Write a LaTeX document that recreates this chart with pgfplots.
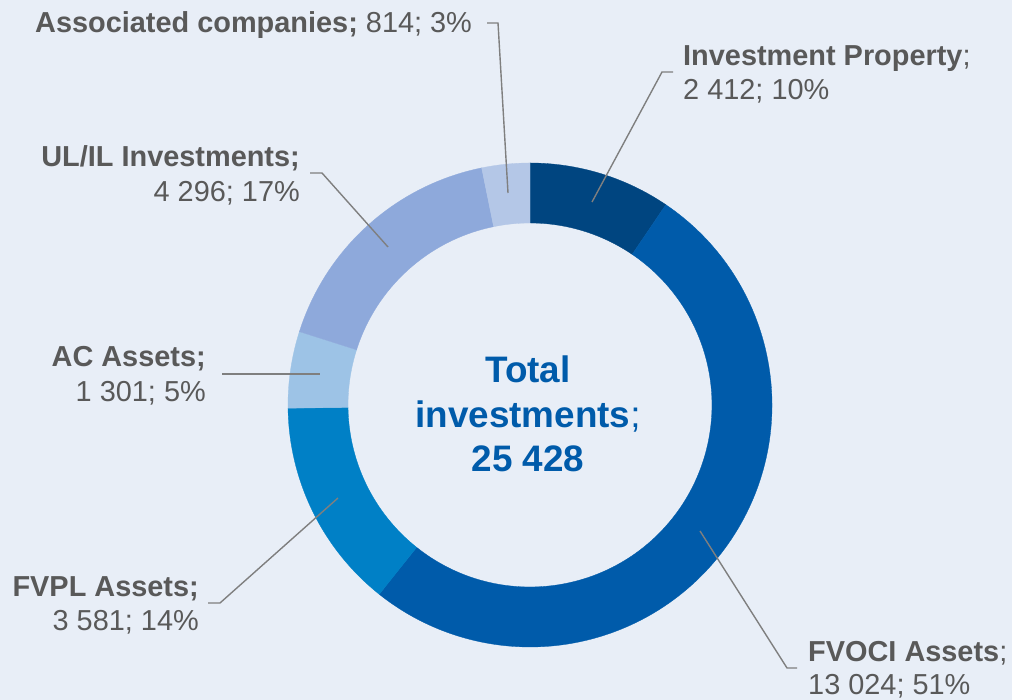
\documentclass[border=0pt]{standalone}
\usepackage{pgfplots}
\usepackage{pgfplotstable}
\pgfplotsset{compat=1.18}
\usepackage{fontspec}
\setmainfont{Liberation Sans}
\definecolor{bgcol}{RGB}{232,238,247}
\definecolor{cIP}{RGB}{0,69,128}
\definecolor{cFVOCI}{RGB}{0,91,170}
\definecolor{cFVPL}{RGB}{0,128,198}
\definecolor{cAC}{RGB}{157,195,230}
\definecolor{cUL}{RGB}{142,169,219}
\definecolor{cAS}{RGB}{180,199,231}
\definecolor{txt}{RGB}{89,89,89}
\definecolor{ttl}{RGB}{0,91,170}
\definecolor{lead}{RGB}{127,127,127}

\pgfplotstableread{
name value color
IP 2412 cIP
FVOCI 13024 cFVOCI
FVPL 3581 cFVPL
AC 1301 cAC
ULIL 4296 cUL
Assoc 814 cAS
}\datatable

\newcommand{\lab}{\fontsize{29}{34}\selectfont}
\newcommand{\ctrfont}{\fontsize{37}{44}\selectfont\bfseries}

\begin{document}
\begin{tikzpicture}
\begin{axis}[
  width=1012bp, height=700bp, scale only axis,
  xmin=0, xmax=1012, ymin=0, ymax=700,
  hide axis, clip=false,
]
\addplot[draw=none] coordinates {(0,0) (1012,700)};
\pgfplotsextra{
  \fill[bgcol] (axis cs:0,0) rectangle (axis cs:1012,700);
  \pgfplotstablegetrowsof{\datatable}
  \pgfmathtruncatemacro{\nrows}{\pgfplotsretval-1}
  \gdef\total{0}
  \foreach \i in {0,...,\nrows}{
    \pgfplotstablegetelem{\i}{value}\of\datatable
    \pgfmathsetmacro{\t}{\total+\pgfplotsretval/1000}
    \xdef\total{\t}
  }
  \gdef\cum{0}
  \foreach \i in {0,...,\nrows}{
    \pgfplotstablegetelem{\i}{value}\of\datatable
    \pgfmathsetmacro{\v}{\pgfplotsretval/1000}
    \pgfplotstablegetelem{\i}{color}\of\datatable
    \edef\col{\pgfplotsretval}
    \pgfmathsetmacro{\a}{90-360*(\cum/\total)}
    \pgfmathsetmacro{\b}{90-360*((\cum+\v)/\total)}
    \fill[\col, draw=\col, line width=0.3pt]
      (axis cs:{530+242*cos(\a)},{295+242*sin(\a)})
      arc[start angle=\a, end angle=\b, radius=242bp]
      -- (axis cs:{530+182*cos(\b)},{295+182*sin(\b)})
      arc[start angle=\b, end angle=\a, radius=182bp] -- cycle;
    \pgfmathsetmacro{\c}{\cum+\v}
    \xdef\cum{\c}
  }
  % leader lines
  \draw[lead, line width=1.4pt] (axis cs:487,677) -- (axis cs:498,677) -- (axis cs:508,507);
  \draw[lead, line width=1.4pt] (axis cs:673,628) -- (axis cs:662,628) -- (axis cs:592,498);
  \draw[lead, line width=1.4pt] (axis cs:310,527) -- (axis cs:322,527) -- (axis cs:388,453);
  \draw[lead, line width=1.4pt] (axis cs:222,326) -- (axis cs:320,326);
  \draw[lead, line width=1.4pt] (axis cs:208,97) -- (axis cs:220,97) -- (axis cs:338,202);
  \draw[lead, line width=1.4pt] (axis cs:797,32) -- (axis cs:787,32) -- (axis cs:700,169);
  % labels
  \node[anchor=base west, inner sep=0pt, text=txt, font=\lab] at (axis cs:35,667) {\textbf{Associated companies;} 814; 3\%};
  \node[anchor=base west, inner sep=0pt, text=txt, font=\lab] at (axis cs:683,634) {\textbf{Investment Property};};
  \node[anchor=base west, inner sep=0pt, text=txt, font=\lab] at (axis cs:683,600) {2 412; 10\%};
  \node[anchor=base east, inner sep=0pt, text=txt, font=\lab] at (axis cs:300,533) {\textbf{UL/IL Investments;}};
  \node[anchor=base east, inner sep=0pt, text=txt, font=\lab] at (axis cs:300,498) {4 296; 17\%};
  \node[anchor=base east, inner sep=0pt, text=txt, font=\lab] at (axis cs:206,333) {\textbf{AC Assets;}};
  \node[anchor=base east, inner sep=0pt, text=txt, font=\lab] at (axis cs:206,298) {1 301; 5\%};
  \node[anchor=base east, inner sep=0pt, text=txt, font=\lab] at (axis cs:199,103) {\textbf{FVPL Assets;}};
  \node[anchor=base east, inner sep=0pt, text=txt, font=\lab] at (axis cs:199,69) {3 581; 14\%};
  \node[anchor=base west, inner sep=0pt, text=txt, font=\lab] at (axis cs:808,38) {\textbf{FVOCI Assets};};
  \node[anchor=base west, inner sep=0pt, text=txt, font=\lab] at (axis cs:808,5) {13 024; 51\%};
  \node[anchor=base, inner sep=0pt, text=ttl, font=\ctrfont] at (axis cs:528,317) {Total};
  \node[anchor=base, inner sep=0pt, text=ttl, font=\ctrfont] at (axis cs:528,272) {investments\mdseries;};
  \node[anchor=base, inner sep=0pt, text=ttl, font=\ctrfont] at (axis cs:528,228) {25 428};
}
\end{axis}
\end{tikzpicture}
\end{document}
